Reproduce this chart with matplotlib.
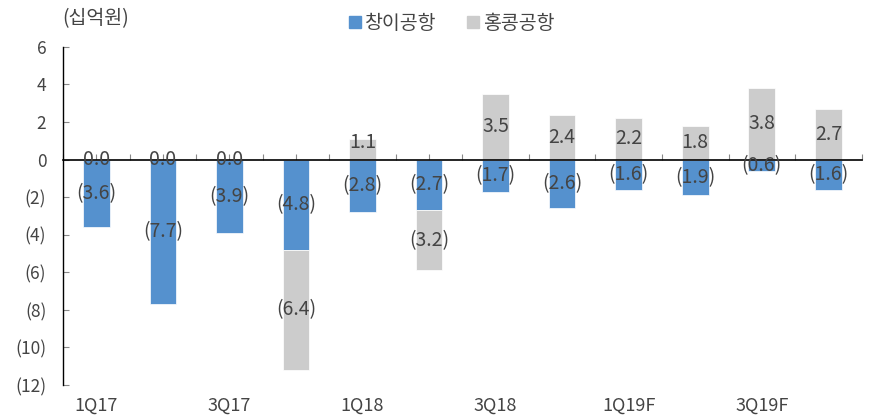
import numpy as np
import matplotlib
matplotlib.use("Agg")
import matplotlib.pyplot as plt
from matplotlib.patches import Patch
from matplotlib.ticker import FuncFormatter

plt.rcParams['font.family'] = ['Noto Sans CJK KR', 'DejaVu Sans']

quarters = ["1Q17", "2Q17", "3Q17", "4Q17", "1Q18", "2Q18", "3Q18", "4Q18",
            "1Q19F", "2Q19F", "3Q19F", "4Q19F"]
changi = [-3.6, -7.7, -3.9, -4.8, -2.8, -2.7, -1.7, -2.6, -1.6, -1.9, -0.6, -1.6]
hongkong = [0.0, 0.0, 0.0, -6.4, 1.1, -3.2, 3.5, 2.4, 2.2, 1.8, 3.8, 2.7]
series_names = ["창이공항", "홍콩공항"]

BLUE = "#5591CE"
GREY = "#CCCCCC"
TXT = "#444444"

def fmt_num(v):
    if v < 0:
        return f"({abs(v):.1f})"
    return f"{v:.1f}"

x = np.arange(len(quarters))
changi = np.array(changi)
hongkong = np.array(hongkong)

# grey bars stack on the blue one when both are negative
hk_base = np.where(hongkong < 0, changi, 0.0)

fig = plt.figure(figsize=(8.69, 4.19), dpi=100)
ax = fig.add_axes([0.0725, 0.081, 0.919, 0.807])

w = 0.4
ax.bar(x, changi, width=w, color=BLUE, edgecolor="white", linewidth=0.5, zorder=2)
ax.bar(x, hongkong, width=w, bottom=hk_base, color=GREY, edgecolor="white", linewidth=0.5, zorder=2)

for xi, c, h, b in zip(x, changi, hongkong, hk_base):
    ax.text(xi, c / 2, fmt_num(c), ha='center', va='center', fontsize=14, color=TXT, zorder=4)
    # tiny positive bar: label sits near the top like the original
    hy = b + h / 2 if abs(h) > 1.5 or h <= 0 else b + h * 0.85
    ax.text(xi, hy, fmt_num(h), ha='center', va='center', fontsize=14, color=TXT, zorder=4)

ax.set_xlim(-0.5, len(quarters) - 0.5)
ax.set_ylim(-12, 6)
ax.set_yticks(np.arange(-12, 7, 2))
ax.yaxis.set_major_formatter(FuncFormatter(lambda v, p: f"({abs(int(v))})" if v < 0 else f"{int(v)}"))
ax.tick_params(axis='y', direction='in', length=4, color="#888888", labelsize=12.5, labelcolor=TXT, pad=12)

ax.spines['top'].set_visible(False)
ax.spines['right'].set_visible(False)
ax.spines['bottom'].set_position(('data', 0))
ax.spines['bottom'].set_zorder(3)
ax.spines['bottom'].set_linewidth(1.2)
ax.spines['left'].set_linewidth(1.0)

ax.set_xticks(np.arange(-0.5, len(quarters), 0.5))
ax.tick_params(axis='x', direction='in', length=4, color="#888888", labelbottom=False)

for xi in x[::2]:
    ax.text(xi, -0.06, quarters[xi], transform=ax.get_xaxis_transform(),
            ha='center', va='center', fontsize=13, color=TXT)

fig.text(0.072, 0.955, "(십억원)", ha='left', va='center', fontsize=14, color=TXT)

handles = [Patch(color=BLUE), Patch(color=GREY)]
fig.legend(handles, series_names, loc='center', bbox_to_anchor=(0.52, 0.945), ncol=2,
           frameon=False, fontsize=14, handlelength=0.6, handleheight=0.6,
           handletextpad=0.2, columnspacing=1.6, labelcolor=TXT)

fig.savefig("out.png", dpi=100)
